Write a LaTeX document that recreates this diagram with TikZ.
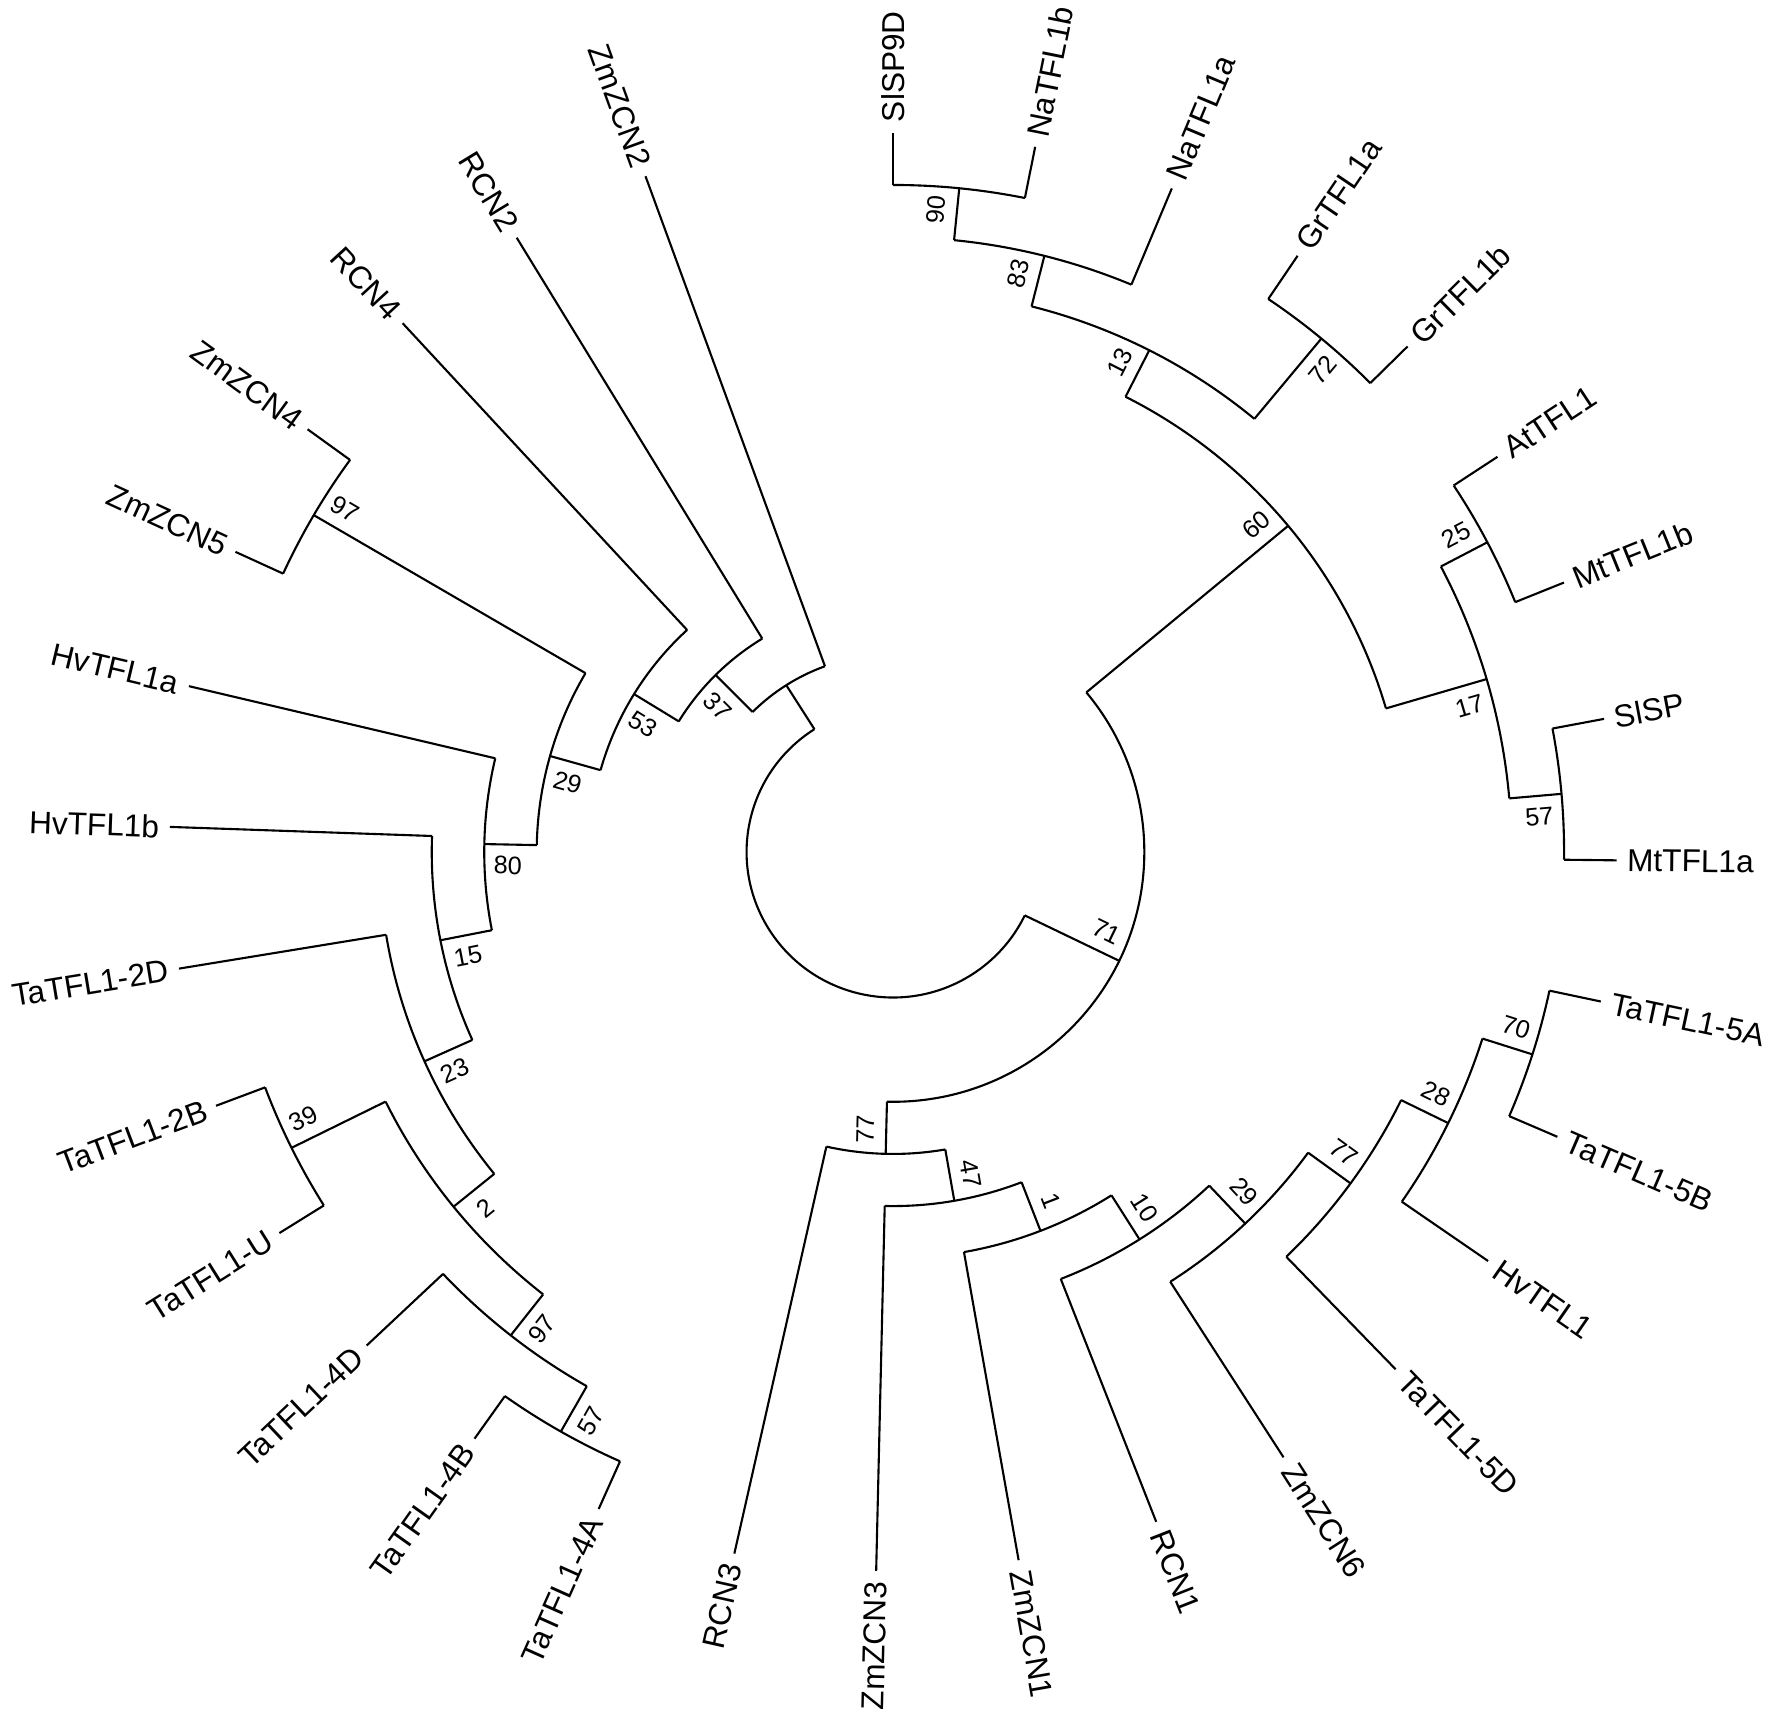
\documentclass[tikz,border=0pt]{standalone}
\usepackage{fontspec}
\setmainfont{Liberation Sans}
\usetikzlibrary{calc}

\begin{document}
\begin{tikzpicture}[x=0.01cm,y=0.00993cm,line width=0.6pt,
    frunza/.style={font=\fontsize{9}{10}\selectfont,inner sep=2.75pt},
    suport/.style={font=\fontsize{7.2}{8}\selectfont,inner sep=0pt}]
  % cadru
  \fill[white] (-8.93cm,-8.61cm) rectangle (8.79cm,8.52cm);
  \useasboundingbox (-8.93cm,-8.61cm) rectangle (8.79cm,8.52cm);

  % rădăcina și ramura L
  \coordinate (R-s) at (-237.549:146.5);
  \draw (R-s) arc[start angle=-237.549,end angle=-25.835,radius=146.5];
  \coordinate (L) at (-237.549:199);
  \coordinate (L-b) at (-237.549:146.5);
  \coordinate (L-s) at (-250:199);
  \draw (L-b) -- (L);
  \draw (L-s) arc[start angle=-250,end angle=-225.098,radius=199];

  % frunze
  \foreach \idx/\nume/\nv in {0/SlSP9D/1,1/NaTFL1b/1,2/NaTFL1a/2,3/GrTFL1a/1,
      4/GrTFL1b/1,5/AtTFL1/1,6/MtTFL1b/1,7/SlSP/1,8/MtTFL1a/1,9/TaTFL1-5A/1,
      10/TaTFL1-5B/1,11/HvTFL1/2,12/TaTFL1-5D/3,13/ZmZCN6/4,14/RCN1/5,
      15/ZmZCN1/6,16/ZmZCN3/7,17/RCN3/8,18/TaTFL1-4A/1,19/TaTFL1-4B/1,
      20/TaTFL1-4D/2,21/TaTFL1-U/1,22/TaTFL1-2B/1,23/TaTFL1-2D/4,
      24/HvTFL1b/5,25/HvTFL1a/6,26/ZmZCN5/1,27/ZmZCN4/1,28/RCN4/8,
      29/RCN2/9,30/ZmZCN2/10}{
    \pgfmathsetmacro\ung{90-11.3333*\idx}
    \pgfmathsetmacro\rpar{724-52.5*\nv}
    \pgfmathtruncatemacro\dr{\ung>-90}
    \coordinate (b\idx) at (\ung:\rpar);
    \coordinate (f\idx) at (\ung:724);
    \draw (b\idx) -- (f\idx);
    \ifnum\dr=1
      \node[frunza,anchor=west,rotate=\ung] (e\idx) at (f\idx) {\nume};
    \else
      \node[frunza,anchor=east,rotate=\ung+180] (e\idx) at (f\idx) {\nume};
    \fi
  }

  % noduri interne cu valorile bootstrap
  \foreach \nume/\ung/\nv/\np/\umin/\umax/\val/\sens in {
      N90/84.333/1/2/78.667/90/90/1, N83/75.833/2/3/67.333/84.333/83/1,
      N72/50.333/1/3/44.667/56/72/-1, N13/63.083/3/4/50.333/75.833/13/1,
      N25/27.667/1/2/22/33.333/25/1, N57/5/1/2/-0.667/10.667/57/-1,
      N17/16.333/2/4/5/27.667/17/-1, N60/39.708/4/9/16.333/63.083/60/1,
      N70/-17.667/1/2/-23.333/-12/70/1, N28/-26.167/2/3/-34.667/-17.667/28/1,
      N77b/-36.083/3/4/-46/-26.167/77/1, N29b/-46.708/4/5/-57.333/-36.083/29/1,
      N10/-57.688/5/6/-68.667/-46.708/10/1, N1/-68.844/6/7/-80/-57.688/1/1,
      N47/-80.089/7/8/-91.333/-68.844/47/1, N77/-91.378/8/9/-102.667/-80.089/77/-1,
      N71/-25.835/9/11/-91.378/39.708/71/1,
      N57b/-119.667/1/2/-125.333/-114/57/1, N97b/-128.167/2/3/-136.667/-119.667/97/1,
      N39/-153.667/1/3/-159.333/-148/39/-1, N2/-140.917/3/4/-153.667/-128.167/2/1,
      N23/-155.792/4/5/-170.667/-140.917/23/1, N15/-168.896/5/6/-182/-155.792/15/1,
      N80/-181.115/6/7/-193.333/-168.896/80/1, N97/-210.333/1/7/-216/-204.667/97/-1,
      N29/-195.724/7/8/-210.333/-181.115/29/1, N53/-211.529/8/9/-227.333/-195.724/53/1,
      N37/-225.098/9/10/-238.667/-211.529/37/1}{
    \pgfmathsetmacro\raza{724-52.5*\nv}
    \pgfmathsetmacro\rpar{724-52.5*\np}
    \pgfmathsetmacro\rlab{\raza-24}
    \pgfmathsetmacro\uoff{\ung+90*\sens}
    \pgfmathsetmacro\rotl{\ung>-90 ? \ung : \ung+180}
    \coordinate (\nume) at (\ung:\raza);
    \coordinate (\nume-b) at (\ung:\rpar);
    \coordinate (\nume-s) at (\umin:\raza);
    \draw (\nume-b) -- (\nume);
    \draw (\nume-s) arc[start angle=\umin,end angle=\umax,radius=\raza];
    \node[suport,rotate=\rotl] (v\nume) at ($(\ung:\rlab)+(\uoff:21)$) {\val};
  }
\end{tikzpicture}
\end{document}
